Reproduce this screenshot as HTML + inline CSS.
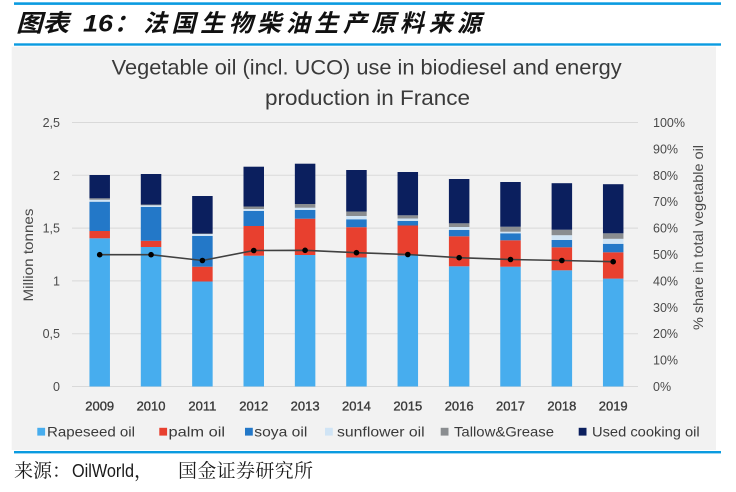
<!DOCTYPE html>
<html>
<head>
<meta charset="utf-8">
<style>
  html, body { margin:0; padding:0; background:#ffffff; }
  svg { display:block; }
</style>
</head>
<body>
<svg width="736" height="492" viewBox="0 0 736 492" xmlns="http://www.w3.org/2000/svg">
  <!-- header -->
  <rect x="14" y="2.3" width="707" height="2.6" fill="#0A9BE0"/>
  <text x="16" y="31.5" font-family="'Liberation Sans','Noto Sans CJK SC',sans-serif" font-size="24" font-weight="bold" font-style="italic" fill="#111">
    <tspan x="16" textLength="53" lengthAdjust="spacingAndGlyphs">图表</tspan>
  </text>
  <text x="83" y="31.5" font-family="'Liberation Sans',sans-serif" font-size="24" font-weight="bold" font-style="italic" fill="#111" textLength="30" lengthAdjust="spacingAndGlyphs">16</text>
  <text x="114" y="31.5" font-family="'Liberation Sans','Noto Sans CJK SC',sans-serif" font-size="24" font-weight="bold" font-style="italic" fill="#111">：</text>
  <text x="143" y="31.5" font-family="'Liberation Sans','Noto Sans CJK SC',sans-serif" font-size="24" font-weight="bold" font-style="italic" fill="#111" textLength="338" lengthAdjust="spacing">法国生物柴油生产原料来源</text>
  <rect x="14" y="43.3" width="707" height="2.4" fill="#0A9BE0"/>

  <!-- chart background -->
  <rect x="11.7" y="46.7" width="704.3" height="403.3" fill="#F2F2F2"/>

  <!-- chart title -->
  <text x="111.7" y="74.3" font-family="'Liberation Sans',sans-serif" font-size="21" fill="#3a3a3a" textLength="510" lengthAdjust="spacingAndGlyphs">Vegetable oil (incl. UCO) use in biodiesel and energy</text>
  <text x="265" y="105" font-family="'Liberation Sans',sans-serif" font-size="21" fill="#3a3a3a" textLength="205" lengthAdjust="spacingAndGlyphs">production in France</text>

  <!-- gridlines -->
  <g stroke="#D9D9D9" stroke-width="1">
    <line x1="72" y1="122.5" x2="638" y2="122.5"/>
    <line x1="72" y1="175.3" x2="638" y2="175.3"/>
    <line x1="72" y1="228.1" x2="638" y2="228.1"/>
    <line x1="72" y1="280.9" x2="638" y2="280.9"/>
    <line x1="72" y1="333.7" x2="638" y2="333.7"/>
    <line x1="72" y1="386.5" x2="638" y2="386.5"/>
  </g>

  <!-- left axis labels -->
  <g font-family="'Liberation Sans',sans-serif" font-size="12.5" fill="#4a4a4a" text-anchor="end">
    <text x="60" y="127">2,5</text>
    <text x="60" y="179.8">2</text>
    <text x="60" y="232.6">1,5</text>
    <text x="60" y="285.4">1</text>
    <text x="60" y="338.2">0,5</text>
    <text x="60" y="391">0</text>
  </g>
  <text transform="translate(33,255) rotate(-90)" text-anchor="middle" font-family="'Liberation Sans',sans-serif" font-size="14" fill="#4a4a4a" textLength="93" lengthAdjust="spacingAndGlyphs">Million tonnes</text>

  <!-- right axis labels -->
  <g font-family="'Liberation Sans',sans-serif" font-size="12.5" fill="#4a4a4a" text-anchor="start">
    <text x="653" y="127">100%</text>
    <text x="653" y="153.4">90%</text>
    <text x="653" y="179.8">80%</text>
    <text x="653" y="206.2">70%</text>
    <text x="653" y="232.6">60%</text>
    <text x="653" y="259">50%</text>
    <text x="653" y="285.4">40%</text>
    <text x="653" y="311.8">30%</text>
    <text x="653" y="338.2">20%</text>
    <text x="653" y="364.6">10%</text>
    <text x="653" y="391">0%</text>
  </g>
  <text transform="translate(703,237.5) rotate(-90)" text-anchor="middle" font-family="'Liberation Sans',sans-serif" font-size="14" fill="#4a4a4a" textLength="185" lengthAdjust="spacingAndGlyphs">% share in total vegetable oil</text>

  <!-- bars -->
  <g id="bars">
    <g transform="translate(89.45,0)">
      <rect x="0" y="238.3" width="20.5" height="148.2" fill="#47ADEE"/>
      <rect x="0" y="231" width="20.5" height="7.3" fill="#E8402F"/>
      <rect x="0" y="201.7" width="20.5" height="29.3" fill="#2378C8"/>
      <rect x="0" y="199.7" width="20.5" height="2" fill="#D0E4F5"/>
      <rect x="0" y="198.3" width="20.5" height="1.4" fill="#8A8D90"/>
      <rect x="0" y="175" width="20.5" height="23.3" fill="#0B1F5E"/>
    </g>
    <g transform="translate(140.8,0)">
      <rect x="0" y="247" width="20.5" height="139.5" fill="#47ADEE"/>
      <rect x="0" y="240.8" width="20.5" height="6.2" fill="#E8402F"/>
      <rect x="0" y="207" width="20.5" height="33.8" fill="#2378C8"/>
      <rect x="0" y="205.3" width="20.5" height="1.7" fill="#D0E4F5"/>
      <rect x="0" y="204.5" width="20.5" height="0.8" fill="#8A8D90"/>
      <rect x="0" y="174" width="20.5" height="30.5" fill="#0B1F5E"/>
    </g>
    <g transform="translate(192.15,0)">
      <rect x="0" y="281.5" width="20.5" height="105" fill="#47ADEE"/>
      <rect x="0" y="266.7" width="20.5" height="14.8" fill="#E8402F"/>
      <rect x="0" y="236" width="20.5" height="30.7" fill="#2378C8"/>
      <rect x="0" y="234" width="20.5" height="2" fill="#D0E4F5"/>
      <rect x="0" y="233.5" width="20.5" height="0.5" fill="#8A8D90"/>
      <rect x="0" y="196" width="20.5" height="37.5" fill="#0B1F5E"/>
    </g>
    <g transform="translate(243.5,0)">
      <rect x="0" y="255.7" width="20.5" height="130.8" fill="#47ADEE"/>
      <rect x="0" y="226" width="20.5" height="29.7" fill="#E8402F"/>
      <rect x="0" y="211" width="20.5" height="15" fill="#2378C8"/>
      <rect x="0" y="209" width="20.5" height="2" fill="#D0E4F5"/>
      <rect x="0" y="206.5" width="20.5" height="2.5" fill="#8A8D90"/>
      <rect x="0" y="166.7" width="20.5" height="39.8" fill="#0B1F5E"/>
    </g>
    <g transform="translate(294.85,0)">
      <rect x="0" y="255" width="20.5" height="131.5" fill="#47ADEE"/>
      <rect x="0" y="218.7" width="20.5" height="36.3" fill="#E8402F"/>
      <rect x="0" y="210" width="20.5" height="8.7" fill="#2378C8"/>
      <rect x="0" y="207.7" width="20.5" height="2.3" fill="#D0E4F5"/>
      <rect x="0" y="204" width="20.5" height="3.7" fill="#8A8D90"/>
      <rect x="0" y="163.7" width="20.5" height="40.3" fill="#0B1F5E"/>
    </g>
    <g transform="translate(346.2,0)">
      <rect x="0" y="257.5" width="20.5" height="129" fill="#47ADEE"/>
      <rect x="0" y="227.2" width="20.5" height="30.3" fill="#E8402F"/>
      <rect x="0" y="219.3" width="20.5" height="7.9" fill="#2378C8"/>
      <rect x="0" y="216" width="20.5" height="3.3" fill="#D0E4F5"/>
      <rect x="0" y="211.5" width="20.5" height="4.5" fill="#8A8D90"/>
      <rect x="0" y="170" width="20.5" height="41.5" fill="#0B1F5E"/>
    </g>
    <g transform="translate(397.55,0)">
      <rect x="0" y="255.5" width="20.5" height="131" fill="#47ADEE"/>
      <rect x="0" y="225.5" width="20.5" height="30" fill="#E8402F"/>
      <rect x="0" y="221" width="20.5" height="4.5" fill="#2378C8"/>
      <rect x="0" y="218.5" width="20.5" height="2.5" fill="#D0E4F5"/>
      <rect x="0" y="215.3" width="20.5" height="3.2" fill="#8A8D90"/>
      <rect x="0" y="172" width="20.5" height="43.3" fill="#0B1F5E"/>
    </g>
    <g transform="translate(448.9,0)">
      <rect x="0" y="266.3" width="20.5" height="120.2" fill="#47ADEE"/>
      <rect x="0" y="236.3" width="20.5" height="30" fill="#E8402F"/>
      <rect x="0" y="230" width="20.5" height="6.3" fill="#2378C8"/>
      <rect x="0" y="227" width="20.5" height="3" fill="#D0E4F5"/>
      <rect x="0" y="223.3" width="20.5" height="3.7" fill="#8A8D90"/>
      <rect x="0" y="179" width="20.5" height="44.3" fill="#0B1F5E"/>
    </g>
    <g transform="translate(500.25,0)">
      <rect x="0" y="266.7" width="20.5" height="119.8" fill="#47ADEE"/>
      <rect x="0" y="240.3" width="20.5" height="26.4" fill="#E8402F"/>
      <rect x="0" y="233.3" width="20.5" height="7" fill="#2378C8"/>
      <rect x="0" y="231.7" width="20.5" height="1.6" fill="#D0E4F5"/>
      <rect x="0" y="226.7" width="20.5" height="5" fill="#8A8D90"/>
      <rect x="0" y="182" width="20.5" height="44.7" fill="#0B1F5E"/>
    </g>
    <g transform="translate(551.6,0)">
      <rect x="0" y="270.3" width="20.5" height="116.2" fill="#47ADEE"/>
      <rect x="0" y="247.3" width="20.5" height="23" fill="#E8402F"/>
      <rect x="0" y="240" width="20.5" height="7.3" fill="#2378C8"/>
      <rect x="0" y="235.2" width="20.5" height="4.8" fill="#D0E4F5"/>
      <rect x="0" y="229.7" width="20.5" height="5.5" fill="#8A8D90"/>
      <rect x="0" y="183.2" width="20.5" height="46.5" fill="#0B1F5E"/>
    </g>
    <g transform="translate(602.95,0)">
      <rect x="0" y="278.6" width="20.5" height="107.9" fill="#47ADEE"/>
      <rect x="0" y="252.3" width="20.5" height="26.3" fill="#E8402F"/>
      <rect x="0" y="243.8" width="20.5" height="8.5" fill="#2378C8"/>
      <rect x="0" y="238.8" width="20.5" height="5" fill="#D0E4F5"/>
      <rect x="0" y="233.3" width="20.5" height="5.5" fill="#8A8D90"/>
      <rect x="0" y="184.2" width="20.5" height="49.1" fill="#0B1F5E"/>
    </g>
  </g>

  <!-- share line -->
  <polyline fill="none" stroke="#404040" stroke-width="1.6"
    points="99.7,254.7 151.05,254.7 202.4,260.5 253.75,250.5 305.1,250.3 356.45,252.7 407.8,254.5 459.15,257.7 510.5,259.5 561.85,260.5 613.2,261.7"/>
  <g fill="#000000">
    <circle cx="99.7" cy="254.7" r="2.8"/>
    <circle cx="151.05" cy="254.7" r="2.8"/>
    <circle cx="202.4" cy="260.5" r="2.8"/>
    <circle cx="253.75" cy="250.5" r="2.8"/>
    <circle cx="305.1" cy="250.3" r="2.8"/>
    <circle cx="356.45" cy="252.7" r="2.8"/>
    <circle cx="407.8" cy="254.5" r="2.8"/>
    <circle cx="459.15" cy="257.7" r="2.8"/>
    <circle cx="510.5" cy="259.5" r="2.8"/>
    <circle cx="561.85" cy="260.5" r="2.8"/>
    <circle cx="613.2" cy="261.7" r="2.8"/>
  </g>

  <!-- x-axis labels -->
  <g font-family="'Liberation Sans',sans-serif" font-size="13" fill="#3a3a3a" stroke="#3a3a3a" stroke-width="0.35" text-anchor="middle">
    <text x="99.7" y="410.5">2009</text>
    <text x="151.05" y="410.5">2010</text>
    <text x="202.4" y="410.5">2011</text>
    <text x="253.75" y="410.5">2012</text>
    <text x="305.1" y="410.5">2013</text>
    <text x="356.45" y="410.5">2014</text>
    <text x="407.8" y="410.5">2015</text>
    <text x="459.15" y="410.5">2016</text>
    <text x="510.5" y="410.5">2017</text>
    <text x="561.85" y="410.5">2018</text>
    <text x="613.2" y="410.5">2019</text>
  </g>

  <!-- legend -->
  <g font-family="'Liberation Sans',sans-serif" font-size="14" fill="#3a3a3a">
    <rect x="37.3" y="427.8" width="7.8" height="7.8" fill="#47ADEE"/>
    <text x="47" y="436.6" textLength="88" lengthAdjust="spacingAndGlyphs">Rapeseed oil</text>
    <rect x="159.3" y="427.8" width="7.8" height="7.8" fill="#E8402F"/>
    <text x="168.5" y="436.6" textLength="56.5" lengthAdjust="spacingAndGlyphs">palm oil</text>
    <rect x="245" y="427.8" width="7.8" height="7.8" fill="#2378C8"/>
    <text x="254.3" y="436.6" textLength="53" lengthAdjust="spacingAndGlyphs">soya oil</text>
    <rect x="325" y="427.8" width="7.8" height="7.8" fill="#D0E4F5"/>
    <text x="337" y="436.6" textLength="87.7" lengthAdjust="spacingAndGlyphs">sunflower oil</text>
    <rect x="440.7" y="427.8" width="7.8" height="7.8" fill="#8A8D90"/>
    <text x="454" y="436.6" textLength="100" lengthAdjust="spacingAndGlyphs">Tallow&amp;Grease</text>
    <rect x="578.7" y="427.8" width="7.8" height="7.8" fill="#0B1F5E"/>
    <text x="592" y="436.6" textLength="107.7" lengthAdjust="spacingAndGlyphs">Used cooking oil</text>
  </g>

  <!-- footer -->
  <rect x="14" y="451" width="707" height="2.4" fill="#0A9BE0"/>
  <text x="14" y="477" font-family="'Liberation Serif','Noto Serif CJK SC',serif" font-size="19" fill="#1a1a1a">来源：</text>
  <text x="72" y="477" font-family="'Liberation Sans',sans-serif" font-size="18" fill="#1a1a1a" textLength="62" lengthAdjust="spacingAndGlyphs">OilWorld</text>
  <text x="134" y="477" font-family="'Liberation Serif','Noto Serif CJK SC',serif" font-size="19" fill="#1a1a1a">，</text>
  <text x="178" y="477" font-family="'Liberation Serif','Noto Serif CJK SC',serif" font-size="19" fill="#1a1a1a" textLength="135" lengthAdjust="spacing">国金证券研究所</text>
</svg>
</body>
</html>
